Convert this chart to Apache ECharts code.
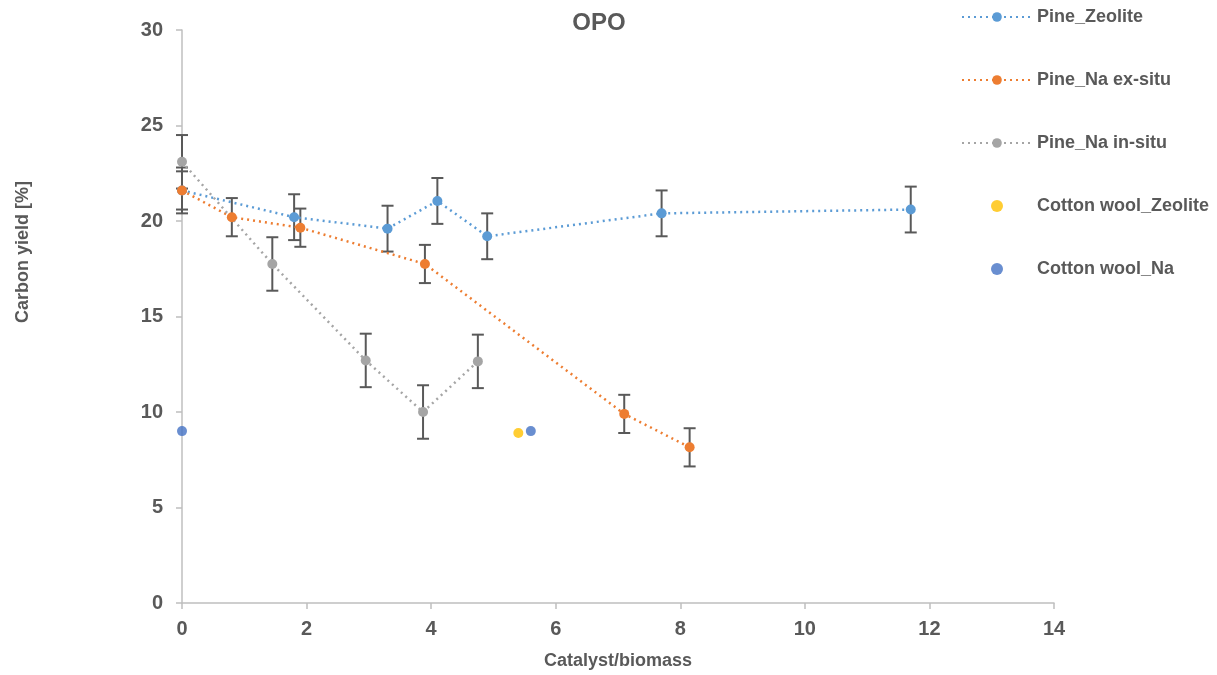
<!DOCTYPE html>
<html lang="en">
<head>
    <meta charset="UTF-8">
    <title>OPO</title>
    <script src="https://cdn.jsdelivr.net/npm/echarts@6/dist/echarts.min.js"></script>
</head>
<body style="margin:0;">
<div id="main" style="width: 1217px;height:675px;"></div>
<script>
    // Pine_Zeolite
    let zeoX = [0, 1.8, 3.3, 4.1, 4.9, 7.7, 11.7];
    let zeoY = [21.6, 20.2, 19.6, 21.05, 19.2, 20.4, 20.6];
    let zeoErr = [1.2, 1.2, 1.2, 1.2, 1.2, 1.2, 1.2];
    // Pine_Na ex-situ
    let exX = [0, 0.8, 1.9, 3.9, 7.1, 8.15];
    let exY = [21.6, 20.2, 19.65, 17.75, 9.9, 8.15];
    let exErr = [1.0, 1.0, 1.0, 1.0, 1.0, 1.0];
    // Pine_Na in-situ
    let inX = [0, 1.45, 2.95, 3.87, 4.75];
    let inY = [23.1, 17.75, 12.7, 10.0, 12.65];
    let inErr = [1.4, 1.4, 1.4, 1.4, 1.4];
    // cotton wool
    let cwZeoX = [5.4];
    let cwZeoY = [8.9];
    let cwNaX = [0, 5.6];
    let cwNaY = [9.0, 9.0];

    let names = ['Pine_Zeolite', 'Pine_Na ex-situ', 'Pine_Na in-situ', 'Cotton wool_Zeolite', 'Cotton wool_Na'];
    let colors = ['#5B9BD5', '#ED7D31', '#A5A5A5', '#FFC000', '#4472C4'];

    function pairs(xs, ys) {
        let out = [];
        for (let i = 0; i < xs.length; i++) out.push([xs[i], ys[i]]);
        return out;
    }

    function errData(xs, ys, es) {
        let out = [];
        for (let i = 0; i < xs.length; i++) out.push([xs[i], ys[i], es[i]]);
        return out;
    }

    //误差线
    function renderErr(params, api) {
        let x = api.value(0), y = api.value(1), e = api.value(2);
        let top = api.coord([x, y + e]);
        let bot = api.coord([x, y - e]);
        let w = 6;
        let style = {stroke: '#595959', lineWidth: 2};
        return {
            type: 'group',
            children: [
                {type: 'line', shape: {x1: top[0], y1: top[1], x2: bot[0], y2: bot[1]}, style: style},
                {type: 'line', shape: {x1: top[0] - w, y1: top[1], x2: top[0] + w, y2: top[1]}, style: style},
                {type: 'line', shape: {x1: bot[0] - w, y1: bot[1], x2: bot[0] + w, y2: bot[1]}, style: style}
            ]
        };
    }

    let txt = '#595959';
    let font = 'Liberation Sans, Arial, sans-serif';

    let series = [];
    let lineSets = [[zeoX, zeoY], [exX, exY], [inX, inY]];
    for (let i = 0; i < 3; i++) {
        series.push({
            name: names[i],
            type: 'line',
            data: pairs(lineSets[i][0], lineSets[i][1]),
            symbol: 'circle',
            symbolSize: 10,
            z: 4,
            itemStyle: {color: colors[i]},
            lineStyle: {color: colors[i], width: 2.5, type: [2, 4]},
            animation: false
        });
    }
    series.push({
        name: names[3], type: 'scatter', data: pairs(cwZeoX, cwZeoY),
        symbolSize: 10, z: 4, itemStyle: {color: colors[3]}, animation: false
    });
    series.push({
        name: names[4], type: 'scatter', data: pairs(cwNaX, cwNaY),
        symbolSize: 10, z: 4, itemStyle: {color: colors[4]}, animation: false
    });
    let errSets = [errData(zeoX, zeoY, zeoErr), errData(exX, exY, exErr), errData(inX, inY, inErr)];
    for (let i = 0; i < 3; i++) {
        series.push({
            type: 'custom',
            renderItem: renderErr,
            data: errSets[i],
            encode: {x: 0, y: 1},
            z: 3,
            silent: true,
            animation: false
        });
    }

    let chart = echarts.init(document.getElementById('main'));
    let option = {
        backgroundColor: '#fff',
        animation: false,
        title: {
            text: 'OPO',
            left: 594,
            top: 6,
            textAlign: 'center',
            textStyle: {color: txt, fontSize: 24, fontWeight: 'bold', fontFamily: font}
        },
        legend: {
            data: names,
            orient: 'vertical',
            left: 956,
            top: 3,
            itemWidth: 70,
            itemHeight: 12,
            itemGap: 45,
            textStyle: {color: txt, fontSize: 18, fontWeight: 'bold', fontFamily: font}
        },
        graphic: [{
            type: 'text',
            x: 23,
            y: 252,
            rotation: Math.PI / 2,
            style: {
                text: 'Carbon yield [%]',
                fill: txt,
                font: 'bold 18px Liberation Sans, Arial, sans-serif',
                align: 'center',
                verticalAlign: 'middle'
            }
        }],
        grid: {left: 182, right: 163, top: 30, bottom: 72},
        xAxis: {
            type: 'value',
            min: 0, max: 14, interval: 2,
            name: 'Catalyst/biomass',
            nameLocation: 'middle',
            nameGap: 49,
            nameTextStyle: {color: txt, fontSize: 18, fontWeight: 'bold', fontFamily: font},
            axisLine: {lineStyle: {color: '#BFBFBF', width: 1.5}},
            axisTick: {show: true, length: 6, lineStyle: {color: '#BFBFBF', width: 1.5}},
            axisLabel: {color: txt, fontSize: 20, fontWeight: 'bold', fontFamily: font, margin: 16},
            splitLine: {show: false}
        },
        yAxis: {
            type: 'value',
            min: 0, max: 30, interval: 5,
            axisLine: {show: true, lineStyle: {color: '#BFBFBF', width: 1.5}},
            axisTick: {show: true, length: 6, lineStyle: {color: '#BFBFBF', width: 1.5}},
            axisLabel: {color: txt, fontSize: 20, fontWeight: 'bold', fontFamily: font, margin: 19},
            splitLine: {show: false}
        },
        series: series
    };
    chart.setOption(option);
</script>
</body>
</html>
